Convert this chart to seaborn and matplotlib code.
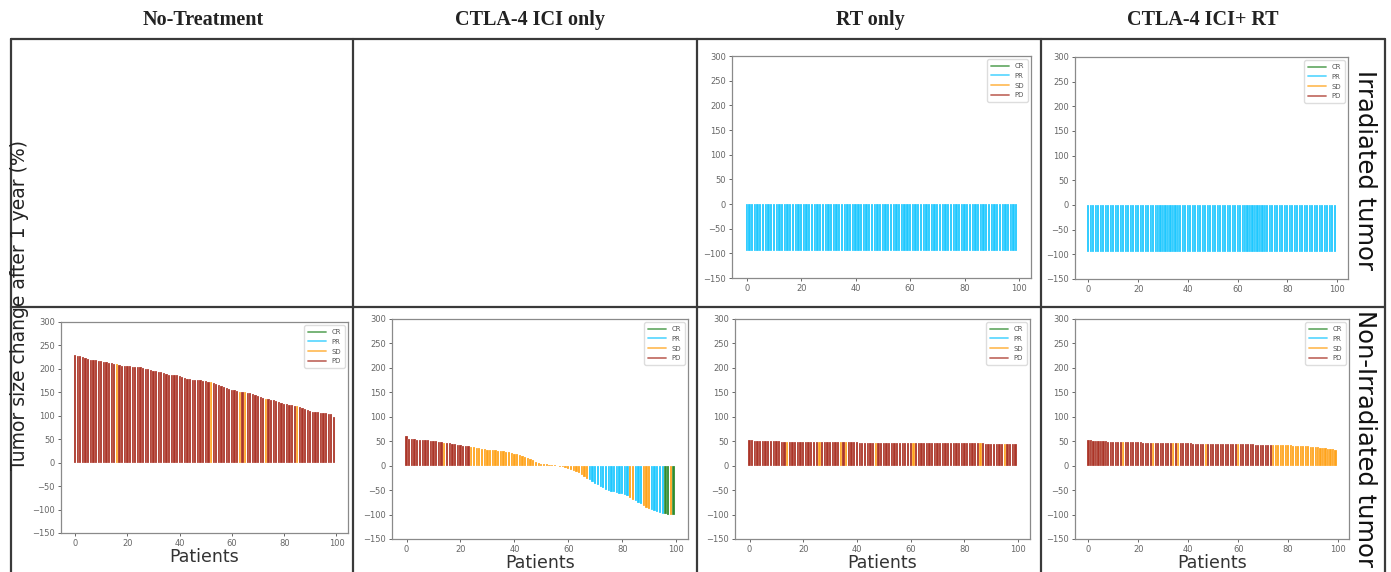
import matplotlib
matplotlib.use("Agg")
import matplotlib.pyplot as plt
from matplotlib.lines import Line2D
import pandas as pd
import seaborn as sns


fig_w, fig_h = 1391, 572
tick_size = 6
label_size = 12.5
side_size = 17.5
header_size = 14.5

patients = list(range(100))

columns = ["No-Treatment", "CTLA-4 ICI only", "RT only", "CTLA-4 ICI+ RT"]
responses = ["CR", "PR", "SD", "PD"]
response_colors = {"CR": "#2e8b2e", "PR": "#1ec8ff", "SD": "#ffa31a", "PD": "#ab3427"}

# irradiated tumor (top row), RT only and CTLA-4 ICI+ RT
rt_irr_change = [
    -95, -95, -95, -95, -95, -95, -95, -95, -95, -95,
    -95, -95, -95, -95, -95, -95, -95, -95, -95, -95,
    -95, -95, -95, -95, -95, -95, -95, -95, -95, -95,
    -95, -95, -95, -95, -95, -95, -95, -95, -95, -95,
    -95, -95, -95, -95, -95, -95, -95, -95, -95, -95,
    -95, -95, -95, -95, -95, -95, -95, -95, -95, -95,
    -95, -95, -95, -95, -95, -95, -95, -95, -95, -95,
    -95, -95, -95, -95, -95, -95, -95, -95, -95, -95,
    -95, -95, -95, -95, -95, -95, -95, -95, -95, -95,
    -95, -95, -95, -95, -95, -95, -95, -95, -95, -95,
]
combo_irr_change = [
    -95, -95, -95, -95, -95, -95, -95, -95, -95, -95,
    -95, -95, -95, -95, -95, -95, -95, -95, -95, -95,
    -95, -95, -95, -95, -95, -95, -95, -95, -95, -95,
    -95, -95, -95, -95, -95, -95, -95, -95, -95, -95,
    -95, -95, -95, -95, -95, -95, -95, -95, -95, -95,
    -95, -95, -95, -95, -95, -95, -95, -95, -95, -95,
    -95, -95, -95, -95, -95, -95, -95, -95, -95, -95,
    -95, -95, -95, -95, -95, -95, -95, -95, -95, -95,
    -95, -95, -95, -95, -95, -95, -95, -95, -95, -95,
    -95, -95, -95, -95, -95, -95, -95, -95, -95, -95,
]

# non-irradiated tumor (bottom row)
nt_change = [
    230, 228, 227, 225, 223, 222, 220, 219, 218, 217,
    216, 215, 214, 213, 212, 211, 210, 208, 207, 207,
    206, 206, 205, 205, 204, 203, 202, 200, 199, 197,
    196, 195, 194, 193, 192, 190, 188, 187, 186, 186,
    185, 183, 181, 179, 178, 177, 177, 176, 176, 175,
    174, 172, 171, 169, 167, 166, 164, 162, 160, 158,
    156, 154, 153, 151, 151, 150, 149, 148, 147, 145,
    143, 140, 138, 136, 135, 134, 133, 132, 130, 128,
    126, 125, 123, 122, 121, 120, 118, 116, 114, 112,
    110, 109, 108, 107, 106, 106, 105, 104, 103, 98,
]
nt_sd = [16, 52, 63, 65, 73, 85]

ici_change = [
    61, 55, 54, 54, 53, 53, 52, 52, 52, 51,
    50, 50, 49, 48, 47, 46, 46, 45, 44, 43,
    42, 41, 41, 40, 39, 38, 37, 36, 35, 34,
    33, 32, 32, 32, 31, 31, 29, 28, 27, 25,
    24, 23, 21, 19, 17, 15, 13, 11, 8, 6,
    4, 3, 3, 2, 2, 1, 0, -2, -3, -4,
    -6, -9, -11, -13, -16, -20, -24, -27, -30, -33,
    -37, -40, -43, -46, -49, -52, -53, -54, -55, -57,
    -58, -60, -63, -67, -70, -73, -76, -79, -83, -86,
    -89, -91, -93, -95, -97, -98, -99, -100, -100, -100,
]
ici_sd = [14] + list(range(24, 68)) + [83, 84, 88, 89, 90, 98]
ici_pr = list(range(68, 83)) + [85, 86, 87, 91, 92, 93, 94, 95]
ici_cr = [96, 97, 99]

rt_change = [
    53, 52, 51, 51, 51, 51, 51, 50, 50, 50,
    50, 50, 49, 49, 49, 49, 49, 49, 49, 49,
    49, 49, 49, 49, 49, 48, 48, 48, 48, 48,
    48, 48, 48, 48, 48, 48, 48, 48, 48, 48,
    48, 47, 47, 47, 47, 47, 47, 47, 47, 47,
    47, 47, 47, 47, 47, 47, 47, 47, 47, 47,
    47, 46, 46, 46, 46, 46, 46, 46, 46, 46,
    46, 46, 46, 46, 46, 46, 46, 46, 46, 46,
    46, 46, 46, 46, 46, 46, 46, 46, 45, 45,
    45, 45, 45, 45, 45, 45, 45, 45, 45, 45,
]
rt_sd = [14, 26, 34, 36, 47, 61, 86, 95]

combo_change = [
    53, 52, 51, 51, 50, 50, 50, 50, 49, 49,
    49, 49, 49, 48, 48, 48, 48, 48, 48, 48,
    48, 48, 47, 47, 47, 47, 47, 47, 47, 47,
    46, 46, 46, 46, 46, 46, 46, 46, 46, 46,
    46, 46, 45, 45, 45, 45, 45, 45, 45, 45,
    45, 45, 45, 45, 45, 45, 45, 44, 44, 44,
    44, 44, 44, 44, 44, 44, 44, 43, 43, 43,
    43, 43, 43, 43, 43, 42, 42, 42, 42, 42,
    42, 42, 41, 41, 41, 41, 40, 40, 40, 39,
    39, 38, 38, 37, 37, 36, 35, 35, 34, 33,
]
combo_sd = [14, 26, 34, 36, 47, 60] + list(range(74, 100))


def make_frame(change, sd=(), pr=(), cr=(), default="PD"):
    cats = []
    for p in patients:
        if p in cr:
            cats.append("CR")
        elif p in pr:
            cats.append("PR")
        elif p in sd:
            cats.append("SD")
        else:
            cats.append(default)
    return pd.DataFrame({"patient": patients, "change": change, "response": cats})


def px_rect(left, top, right, bottom):
    return [left / fig_w, 1 - bottom / fig_h, (right - left) / fig_w, (bottom - top) / fig_h]


def waterfall(fig, rect, df, xlabel=True):
    ax = fig.add_axes(rect)
    sns.barplot(data=df, x="patient", y="change", hue="response", hue_order=responses,
                palette=response_colors, dodge=False, native_scale=True, saturation=1,
                errorbar=None, width=0.85, edgecolor="white", linewidth=0.15, legend=False, ax=ax)
    ax.set_ylim(-150, 300)
    ax.set_yticks(range(-150, 301, 50))
    ax.set_xticks(range(0, 101, 20))
    ax.set_xlim(-5.4, 104.4)
    ax.tick_params(labelsize=tick_size, colors="#666666", length=2.5, width=0.7, pad=2)
    for sp in ax.spines.values():
        sp.set_visible(True)
        sp.set_color("#8a8a8a")
        sp.set_linewidth(0.9)
    ax.set_ylabel("")
    if xlabel:
        ax.set_xlabel("Patients", fontsize=label_size, color="#333333", labelpad=0)
    else:
        ax.set_xlabel("")
    handles = [Line2D([0], [0], color=response_colors[r], alpha=0.7, lw=1.3) for r in responses]
    leg = ax.legend(handles, responses, loc="upper right", fontsize=5, handlelength=2.6,
                    borderpad=0.5, labelspacing=0.55, framealpha=1, edgecolor="#dddddd")
    for t in leg.get_texts():
        t.set_color("#555555")
    return ax


def main():
    sns.set_style("ticks")
    fig = plt.figure(figsize=(fig_w / 100, fig_h / 100), dpi=100)

    # table grid
    grid = dict(color="#3a3a3a", lw=1.6, transform=fig.transFigure)
    for x in [11, 353, 697, 1041, 1385]:
        fig.add_artist(Line2D([x / fig_w, x / fig_w], [1 - 39 / fig_h, 0], **grid))
    for y in [39, 307]:
        fig.add_artist(Line2D([11 / fig_w, 1385 / fig_w], [1 - y / fig_h, 1 - y / fig_h], **grid))

    # column headers
    for name, cx in zip(columns, [203, 530, 870, 1203]):
        fig.text(cx / fig_w, 1 - 20 / fig_h, name, ha="center", va="center",
                 fontsize=header_size, fontweight="bold", family="Liberation Serif", color="#222222")

    # top row: irradiated tumor
    waterfall(fig, px_rect(732, 56, 1031, 278), make_frame(rt_irr_change, default="PR"), xlabel=False)
    waterfall(fig, px_rect(1075, 57, 1348, 279), make_frame(combo_irr_change, default="PR"), xlabel=False)

    # bottom row: non-irradiated tumor
    waterfall(fig, px_rect(61, 322, 348, 533), make_frame(nt_change, sd=nt_sd))
    waterfall(fig, px_rect(392, 319, 688, 539), make_frame(ici_change, sd=ici_sd, pr=ici_pr, cr=ici_cr))
    waterfall(fig, px_rect(735, 319, 1030, 539), make_frame(rt_change, sd=rt_sd))
    waterfall(fig, px_rect(1075, 319, 1349, 539), make_frame(combo_change, sd=combo_sd))

    fig.text(20 / fig_w, 1 - 305 / fig_h, "Tumor size change after 1 year (%)", rotation=90,
             ha="center", va="center", fontsize=13.5, color="#222222")
    fig.text(1365 / fig_w, 1 - 170 / fig_h, "Irradiated tumor", rotation=270,
             ha="center", va="center", fontsize=side_size, color="#111111")
    fig.text(1365 / fig_w, 1 - 439 / fig_h, "Non-Irradiated tumor", rotation=270,
             ha="center", va="center", fontsize=side_size, color="#111111")

    fig.savefig("out.png", dpi=100)


if __name__ == "__main__":
    main()
